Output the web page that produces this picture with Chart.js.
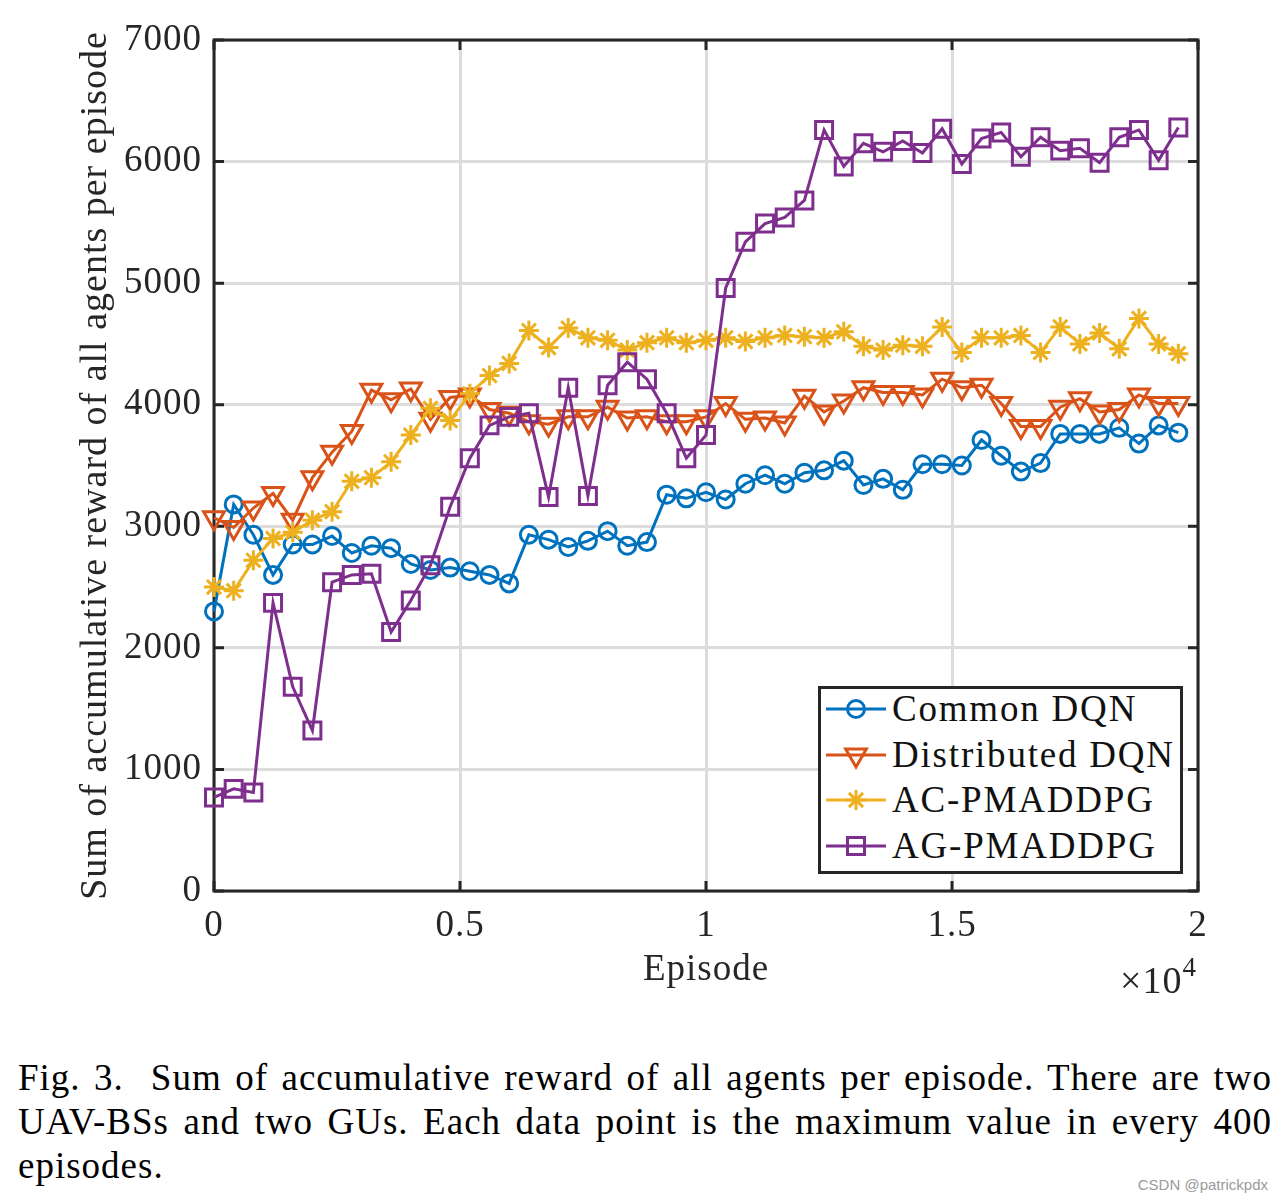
<!DOCTYPE html>
<html>
<head>
<meta charset="utf-8">
<script src="https://cdn.jsdelivr.net/npm/chart.js@4.4.1/dist/chart.umd.min.js"></script>
<style>
html,body{margin:0;padding:0;background:#fff;}
body{width:1284px;height:1203px;position:relative;overflow:hidden;font-family:"Liberation Serif","Times New Roman",serif;}
#wrap{position:absolute;left:0;top:0;width:1284px;height:1010px;}
#legend{position:absolute;left:818px;top:686px;width:359px;height:182px;border:3px solid #262626;background:#fff;}
.row{position:absolute;left:0;height:46px;width:359px;display:flex;align-items:center;}
.row svg{position:absolute;left:5px;top:8px;}
.row span{position:absolute;left:71px;top:0;line-height:46px;font-size:37px;letter-spacing:1.8px;color:#111;white-space:nowrap;}
#xexp{position:absolute;left:1120px;top:962px;font-size:38px;line-height:37px;letter-spacing:1px;color:#262626;white-space:nowrap;}
#xexp sup{font-size:27px;position:relative;top:-17px;vertical-align:baseline;}
#caption{position:absolute;left:18px;top:1056px;width:1254px;font-size:37px;letter-spacing:1px;line-height:44px;text-align:justify;color:#000;}
#wm{position:absolute;right:16px;top:1176px;font-family:"Liberation Sans",Arial,sans-serif;font-size:15px;color:#9a9a9a;}
</style>
</head>
<body>
<div id="wrap"><canvas id="c" width="1284" height="1010"></canvas></div>
<div id="legend"></div>
<div id="xexp">&times;10<sup>4</sup></div>
<div id="caption">Fig. 3.&nbsp; Sum of accumulative reward of all agents per episode. There are two UAV-BSs and two GUs. Each data point is the maximum value in every 400 episodes.</div>
<div id="wm">CSDN @patrickpdx</div>
<script>
const episodes = [0,400,800,1200,1600,2000,2400,2800,3200,3600,4000,4400,4800,5200,5600,6000,6400,6800,7200,7600,8000,8400,8800,9200,9600,10000,10400,10800,11200,11600,12000,12400,12800,13200,13600,14000,14400,14800,15200,15600,16000,16400,16800,17200,17600,18000,18400,18800,19200,19600];
const commonDQN = [2300,3180,2930,2600,2850,2850,2920,2780,2840,2820,2690,2640,2660,2630,2600,2530,2930,2890,2830,2880,2960,2840,2870,3260,3230,3280,3220,3350,3420,3350,3440,3460,3540,3340,3390,3300,3510,3510,3500,3710,3580,3450,3520,3760,3760,3760,3810,3680,3830,3770];
const distributedDQN = [3070,2990,3150,3270,3050,3400,3610,3780,4120,4040,4130,3880,4060,4080,3960,3930,3860,3840,3900,3900,3980,3890,3900,3860,3860,3900,4010,3880,3890,3850,4070,3940,4030,4140,4100,4100,4080,4210,4140,4160,4010,3820,3820,3980,4050,3940,3960,4080,4010,4010];
const acPMADDPG = [2500,2470,2720,2900,2950,3050,3120,3370,3400,3530,3750,3970,3870,4090,4240,4340,4610,4470,4630,4550,4530,4450,4510,4550,4510,4530,4550,4520,4550,4570,4560,4550,4600,4480,4450,4490,4480,4640,4430,4550,4550,4570,4430,4640,4500,4590,4460,4710,4500,4420];
const agPMADDPG = [770,840,810,2370,1680,1320,2540,2600,2610,2130,2390,2680,3160,3560,3830,3900,3930,3240,4140,3250,4160,4350,4210,3930,3560,3750,4960,5340,5490,5540,5680,6260,5960,6150,6080,6170,6070,6270,5980,6190,6240,6040,6200,6090,6110,5990,6200,6260,6010,6280];
const seriesNames = ['Common DQN','Distributed DQN','AC-PMADDPG','AG-PMADDPG'];
const xTickValues = [0,5000,10000,15000,20000];
const xTickLabels = ['0','0.5','1','1.5','2'];
const yTickValues = [0,1000,2000,3000,4000,5000,6000,7000];

const seriesData = [commonDQN, distributedDQN, acPMADDPG, agPMADDPG];
const colors = ['#0072BD','#D95319','#EDB120','#7E2F8E'];
const styles = [
  {pointStyle:'circle', radius:8.5, rotation:0},
  {pointStyle:'triangle', radius:12, rotation:180},
  {pointStyle:'star', radius:10, rotation:0},
  {pointStyle:'rect', radius:12, rotation:0}
];
const FONT = 'Liberation Serif';

const datasets = seriesData.map((vals, k) => ({
  label: seriesNames[k],
  data: episodes.map((e, i) => ({x: e, y: vals[i]})),
  borderColor: colors[k],
  borderWidth: 3,
  pointStyle: styles[k].pointStyle,
  pointRadius: styles[k].radius,
  pointRotation: styles[k].rotation,
  pointBorderColor: colors[k],
  pointBackgroundColor: 'rgba(0,0,0,0)',
  pointBorderWidth: 3,
  pointHoverRadius: styles[k].radius,
  tension: 0,
  fill: false,
  clip: false,
  order: 4 - k
}));

const spacingPlugin = {
  id: 'spacing',
  beforeDraw(chart) { chart.ctx.letterSpacing = '1px'; }
};

const framePlugin = {
  id: 'frame',
  beforeDatasetsDraw(chart) {
    const {ctx, chartArea: {left, right, top, bottom}, scales: {x, y}} = chart;
    ctx.save();
    ctx.strokeStyle = '#262626';
    ctx.lineWidth = 3;
    ctx.lineJoin = 'miter';
    ctx.strokeRect(left, top, right - left, bottom - top);
    ctx.beginPath();
    xTickValues.forEach(v => {
      const px = x.getPixelForValue(v);
      ctx.moveTo(px, bottom); ctx.lineTo(px, bottom - 10);
      ctx.moveTo(px, top); ctx.lineTo(px, top + 10);
    });
    yTickValues.forEach(v => {
      const py = y.getPixelForValue(v);
      ctx.moveTo(left, py); ctx.lineTo(left + 10, py);
      ctx.moveTo(right, py); ctx.lineTo(right - 10, py);
    });
    ctx.stroke();
    ctx.restore();
  }
};

new Chart(document.getElementById('c'), {
  type: 'line',
  data: {datasets},
  plugins: [spacingPlugin, framePlugin],
  options: {
    responsive: false,
    animation: false,
    devicePixelRatio: 1,
    layout: {padding: {left: 0, top: 40, right: 86, bottom: 0}},
    plugins: {legend: {display: false}, tooltip: {enabled: false}},
    scales: {
      x: {
        type: 'linear', min: 0, max: 20000,
        afterBuildTicks: s => { s.ticks = xTickValues.map(v => ({value: v})); },
        ticks: {
          callback: v => xTickLabels[xTickValues.indexOf(v)],
          font: {family: FONT, size: 37}, color: '#262626', padding: 13,
          maxRotation: 0, autoSkip: false
        },
        grid: {color: '#dcdcdc', lineWidth: 3, drawTicks: false},
        border: {display: false},
        title: {display: true, text: 'Episode', font: {family: FONT, size: 37}, color: '#262626', padding: {top: 0, bottom: 18}},
        afterFit: s => { s.height = 119; }
      },
      y: {
        min: 0, max: 7000,
        afterBuildTicks: s => { s.ticks = yTickValues.map(v => ({value: v})); },
        ticks: {
          callback: v => String(v),
          font: {family: FONT, size: 37}, color: '#262626', padding: 12
        },
        grid: {color: '#dcdcdc', lineWidth: 3, drawTicks: false},
        border: {display: false},
        title: {display: true, text: 'Sum of accumulative reward of all agents per episode', font: {family: FONT, size: 38}, color: '#262626', padding: {top: 73, bottom: 0}},
        afterFit: s => { s.width = 214; }
      }
    }
  }
});

// Legend (HTML text, SVG markers)
function markerSVG(k) {
  const c = colors[k];
  let m = '';
  if (k === 0) m = `<circle cx="30" cy="15" r="8.5" fill="none" stroke="${c}" stroke-width="3"/>`;
  if (k === 1) m = `<polygon points="19.6,9 40.4,9 30,27" fill="none" stroke="${c}" stroke-width="3" stroke-linejoin="miter"/>`;
  if (k === 2) m = `<path d="M30 5V25M20 15H40M22.9 7.9L37.1 22.1M37.1 7.9L22.9 22.1" stroke="${c}" stroke-width="3"/>`;
  if (k === 3) m = `<rect x="21.5" y="6.5" width="17" height="17" fill="none" stroke="${c}" stroke-width="3"/>`;
  return `<svg width="60" height="30" viewBox="0 0 60 30"><line x1="0" y1="15" x2="60" y2="15" stroke="${c}" stroke-width="3"/>${m}</svg>`;
}
const leg = document.getElementById('legend');
seriesNames.forEach((n, k) => {
  const r = document.createElement('div');
  r.className = 'row';
  r.style.top = (-3 + k * 45.5) + 'px';
  r.innerHTML = markerSVG(k) + `<span>${n}</span>`;
  leg.appendChild(r);
});
</script>
</body>
</html>
